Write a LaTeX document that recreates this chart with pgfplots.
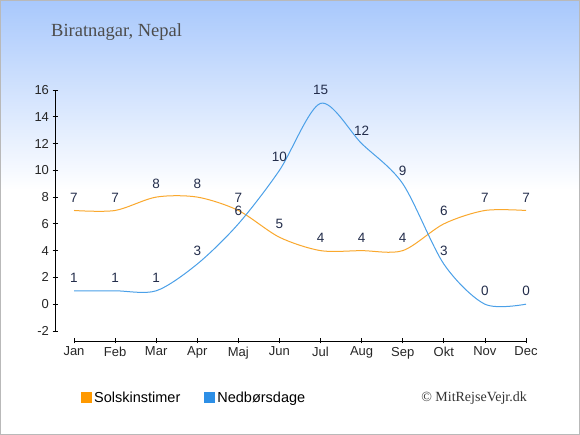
\documentclass[border=0pt]{standalone}
\usepackage{pgfplots}
\pgfplotsset{compat=1.18}
\usepackage{fontspec}
\setmainfont{Liberation Sans}
\newfontfamily\serifx{Liberation Serif}
\definecolor{sun}{RGB}{250,168,45}
\definecolor{rain}{RGB}{75,160,232}
\definecolor{sunleg}{RGB}{255,153,0}
\definecolor{rainleg}{RGB}{45,143,230}
\definecolor{navy}{RGB}{35,45,75}
\definecolor{bgtop}{RGB}{168,200,252}
\begin{document}
\begin{tikzpicture}
\fill[white] (0pt,0pt) rectangle (580pt,435pt);
\shade[top color=bgtop, bottom color=white] (0pt,245pt) rectangle (580pt,435pt);
\draw[gray!55, line width=1pt] (0.5pt,0.5pt) rectangle (579.5pt,434.5pt);
\node[anchor=west, inner sep=0pt, font=\serifx\fontsize{18.5}{20}\selectfont, text=black!70] at (51pt,403pt) {Biratnagar, Nepal};
\node[anchor=east, inner sep=0pt, font=\serifx\fontsize{14}{16}\selectfont, text=black!80] at (527pt,37pt) {© MitRejseVejr.dk};
\begin{axis}[
  at={(55pt,94pt)}, anchor=south west, scale only axis,
  width=471pt, height=251pt,
  xmin=-0.4624, xmax=11, ymin=-2.75, ymax=16,
  axis x line*=bottom, axis y line*=left,
  axis line style={draw=none},
  clip=false,
  /pgf/number format/assume math mode=true,
  xtick={0,...,11},
  xticklabels={Jan,Feb,Mar,Apr,Maj,Jun,Jul,Aug,Sep,Okt,Nov,Dec},
  ytick={-2,0,...,16},
  tick align=center, major tick length=5pt,
  tick style={black, line width=0.8pt},
  ticklabel style={font=\fontsize{13}{15}\selectfont, text=black!85},
  nodes near coords,
  every node near coord/.style={anchor=center, yshift=13pt, text=navy, font=\fontsize{13.5}{15}\selectfont},
  legend style={draw=none, fill=none, at={(0.0488,-0.227)}, anchor=west,
    legend columns=2, font=\fontsize{14.5}{16}\selectfont,
    /tikz/every even column/.append style={column sep=22pt}},
]
\draw[black, line width=0.8pt] (axis cs:-0.4624,-2) -- (axis cs:-0.4624,16);
\draw[black, line width=0.8pt] (axis cs:0,-2.75) -- (axis cs:11,-2.75);
\addplot[sun, line width=1pt, smooth, mark=none,
  legend image code/.code={\fill[sunleg] (0pt,-5pt) rectangle (10pt,5pt);}]
  coordinates {(0,7) (1,7) (2,8) (3,8) (4,7) (5,5) (6,4) (7,4) (8,4) (9,6) (10,7) (11,7)};
\addlegendentry{Solskinstimer}
\addplot[rain, line width=1pt, smooth, mark=none,
  legend image code/.code={\fill[rainleg] (0pt,-5pt) rectangle (10pt,5pt);}]
  coordinates {(0,1) (1,1) (2,1) (3,3) (4,6) (5,10) (6,15) (7,12) (8,9) (9,3) (10,0) (11,0)};
\addlegendentry{Nedbørsdage}
\end{axis}
\end{tikzpicture}
\end{document}
